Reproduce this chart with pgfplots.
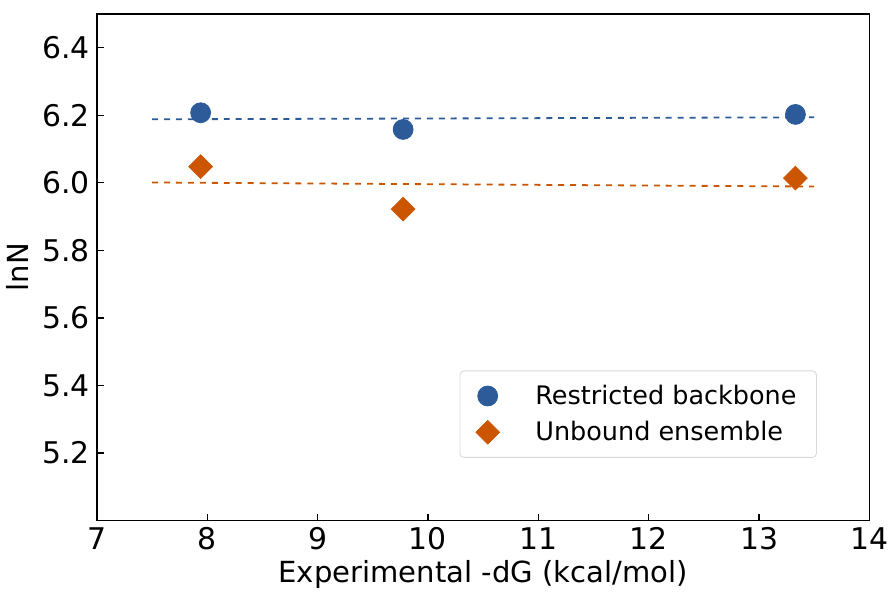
\documentclass[border=0pt]{standalone}
\usepackage{pgfplots}
\pgfplotsset{compat=1.18}
\usepackage{fontspec}
\setmainfont{DejaVu Sans}
\definecolor{cblue}{HTML}{2D5B9A}
\definecolor{corange}{HTML}{CC5500}
\begin{document}
\begin{tikzpicture}
\begin{axis}[
    scale only axis,
    width=388pt, height=254.5pt,
    xmin=7, xmax=14, ymin=5.0, ymax=6.5,
    xtick={7,8,...,14},
    ytick={5.2,5.4,...,6.41},
    yticklabel style={/pgf/number format/.cd,fixed,fixed zerofill,precision=1},
    /pgf/number format/assume math mode=true,
    tick align=inside,
    xtick pos=bottom, ytick pos=left,
    major tick length=3.5pt,
    tick style={black, line width=0.6pt},
    axis line style={line width=0.7pt},
    ticklabel style={font=\fontsize{15}{18}\selectfont},
    label style={font=\fontsize{14.6}{17}\selectfont},
    xlabel={Experimental -dG (kcal/mol)},
    ylabel={lnN},
    xlabel style={yshift=2pt},
    legend style={at={(0.932,0.124)}, anchor=south east,
      font=\fontsize{12.8}{15}\selectfont, draw=black!15, rounded corners=2pt,
      inner xsep=8pt, inner ysep=5pt, row sep=3pt},
    legend cell align=left,
    after end axis/.code={\path (rel axis cs:1,1) ++(6pt,7pt);},
]
\addplot[only marks, mark=*, mark size=5pt, color=cblue]
  coordinates {(7.94,6.2075) (9.775,6.158) (13.33,6.2025)};
\addlegendentry{\hspace{16pt}Restricted backbone}
\addplot[only marks, mark=square*, mark size=4.2pt, mark options={rotate=45}, color=corange]
  coordinates {(7.94,6.048) (9.775,5.922) (13.33,6.014)};
\addlegendentry{\hspace{16pt}Unbound ensemble}
\addplot[dashed, color=cblue, line width=0.9pt, forget plot]
  coordinates {(7.5,6.188) (13.5,6.194)};
\addplot[dashed, color=corange, line width=0.9pt, forget plot]
  coordinates {(7.5,6.001) (13.5,5.989)};
\end{axis}
\end{tikzpicture}
\end{document}
